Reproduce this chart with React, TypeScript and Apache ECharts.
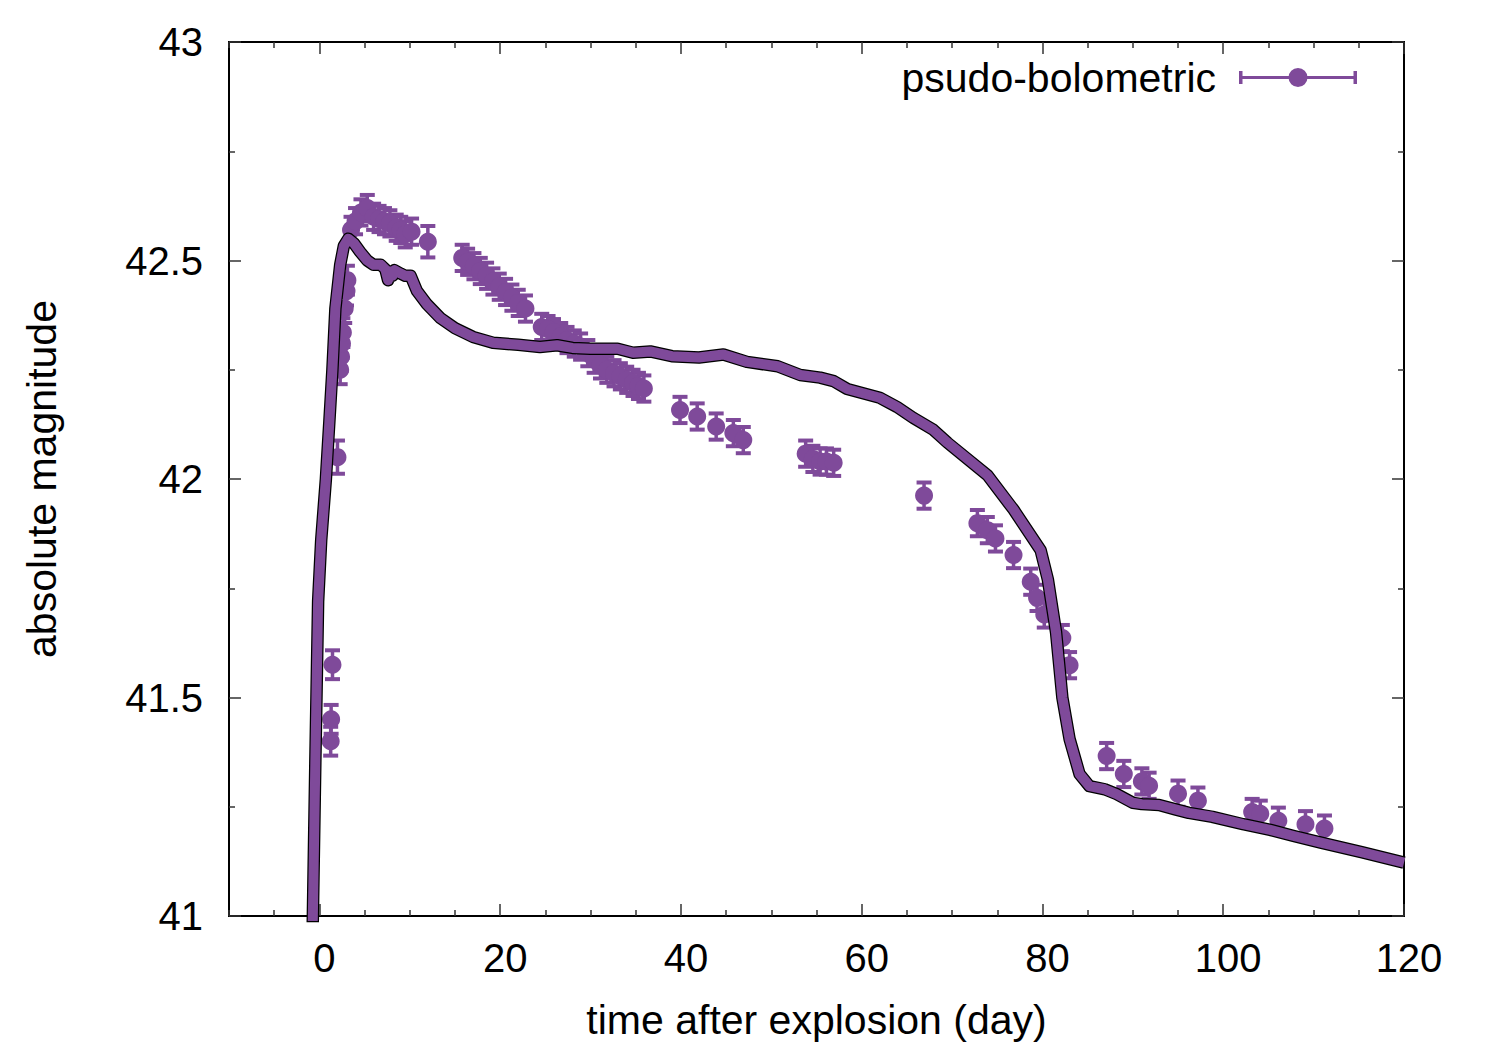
import React, { useEffect, useRef } from "react";
import * as echarts from "echarts";

const PURPLE = "#7f4a9a";
const FONT = "'Liberation Sans', Arial, Helvetica, sans-serif";

// Observed pseudo-bolometric points
const obsDays = [
  1.25, 1.3, 1.45, 2.0, 2.3, 2.4, 2.5, 2.6, 2.8, 3.0, 3.1, 3.5, 4.0, 4.6, 5.3, 6.0, 6.6, 7.2, 7.8,
  8.5, 9.0, 9.5, 10.2, 12.0, 15.8, 16.4, 17.1, 17.8, 18.5, 19.2, 19.9, 20.6, 21.3, 22.0, 22.8, 24.6,
  25.3, 25.9, 26.7, 27.4, 28.2, 28.9, 29.7, 30.4, 31.1, 31.8, 32.6, 33.3, 34.0, 34.7, 35.3, 35.9,
  39.9, 41.8, 43.9, 45.8, 46.9, 53.8, 54.6, 55.4, 56.1, 56.9, 66.9, 72.8, 73.9, 74.8, 76.8, 78.7,
  79.4, 80.2, 82.2, 83.0, 87.1, 89.0, 91.0, 91.8, 95.0, 97.2, 103.2, 104.1, 106.1, 109.1, 111.2,
];
const obsLum = [
  41.4, 41.45, 41.575, 42.05, 42.25, 42.28, 42.31, 42.335, 42.39, 42.43, 42.455, 42.57, 42.59, 42.61,
  42.62, 42.6, 42.595, 42.59, 42.585, 42.575, 42.57, 42.56, 42.566, 42.543, 42.506, 42.497, 42.487,
  42.476, 42.465, 42.452, 42.44, 42.428, 42.415, 42.403, 42.39, 42.348, 42.343, 42.336, 42.327,
  42.318, 42.31, 42.303, 42.288, 42.273, 42.26, 42.25, 42.242, 42.235, 42.227, 42.22, 42.213,
  42.207, 42.158, 42.143, 42.12, 42.105, 42.089, 42.058, 42.046, 42.04, 42.04, 42.037, 41.962,
  41.899, 41.883, 41.864, 41.826, 41.765, 41.728, 41.69, 41.636, 41.574, 41.366, 41.325, 41.308,
  41.298, 41.28, 41.264, 41.238, 41.234, 41.218, 41.21, 41.2,
];
const obsErr = [
  0.033, 0.033, 0.033, 0.038, 0.033, 0.033, 0.033, 0.033, 0.033, 0.033, 0.033, 0.03, 0.03, 0.03,
  0.03, 0.03, 0.03, 0.03, 0.03, 0.03, 0.03, 0.03, 0.03, 0.036, 0.03, 0.03, 0.03, 0.03, 0.03, 0.03,
  0.03, 0.03, 0.03, 0.03, 0.03, 0.03, 0.03, 0.03, 0.03, 0.03, 0.03, 0.03, 0.03, 0.03, 0.03, 0.03,
  0.03, 0.03, 0.03, 0.03, 0.03, 0.03, 0.03, 0.03, 0.03, 0.03, 0.03, 0.03, 0.03, 0.03, 0.03, 0.03,
  0.03, 0.03, 0.03, 0.03, 0.03, 0.03, 0.03, 0.03, 0.03, 0.03, 0.03, 0.03, 0.03, 0.03, 0.03, 0.03,
  0.03, 0.03, 0.03, 0.03, 0.03, 0.03,
];

// Model light curve
const modelDays = [
  -0.8, -0.45, -0.14, 0.2, 0.72, 1.1, 1.44, 1.77, 2.3, 2.7, 3.2, 3.8, 4.5, 5.3, 6.0, 6.8, 7.3, 7.6,
  7.8, 8.1, 8.3, 9.0, 9.5, 10.1, 10.8, 11.9, 13.4, 15.0, 17.0, 19.2, 22.0, 24.4, 26.3, 28.0, 30.0,
  33.0, 34.7, 36.6, 39.0, 42.0, 44.7, 47.3, 50.7, 53.2, 55.4, 56.9, 58.4, 62.0, 63.9, 65.7, 67.9,
  69.5, 73.9, 76.8, 79.8, 80.6, 81.5, 82.2, 83.0, 84.1, 85.2, 86.9, 88.2, 90.0, 91.0, 92.9, 94.7,
  96.2, 98.8, 102.2, 105.2, 107.8, 110.8, 115.3, 120.0,
];
const modelLum = [
  40.9, 41.35, 41.72, 41.86, 42.0, 42.13, 42.25, 42.39, 42.49, 42.533, 42.55, 42.54, 42.52, 42.5,
  42.49, 42.49, 42.48, 42.455, 42.475, 42.465, 42.478, 42.47, 42.465, 42.465, 42.43, 42.4, 42.368,
  42.345, 42.325, 42.312, 42.307, 42.302, 42.306, 42.3, 42.298, 42.298, 42.289, 42.292, 42.281,
  42.278, 42.285, 42.268, 42.258, 42.238, 42.232, 42.224, 42.206, 42.186, 42.165, 42.14, 42.113,
  42.083, 42.009, 41.93, 41.837, 41.77, 41.65, 41.5, 41.405, 41.325, 41.297, 41.29, 41.279, 41.259,
  41.256, 41.254, 41.244, 41.236, 41.227, 41.21, 41.197, 41.183, 41.168, 41.146, 41.122,
];

const xMajor = [0, 20, 40, 60, 80, 100, 120];
const xMinor = [-10, -5, 5, 10, 15, 25, 30, 35, 45, 50, 55, 65, 70, 75, 85, 90, 95, 105, 110, 115];

const legendIcon =
  "path://M0,3.5h3.5v13h-3.5z M114.5,3.5h3.5v13h-3.5z M0,8.5h118v3h-118z M49.5,10a9.5,9.5 0 1,1 19,0a9.5,9.5 0 1,1 -19,0z";

export default function App() {
  const ref = useRef<HTMLDivElement>(null);
  useEffect(() => {
    if (!ref.current) return;
    const chart = echarts.init(ref.current, undefined, { renderer: "svg" });
    const obs = obsDays.map((d, i) => [d, obsLum[i], obsErr[i]]);
    const model = modelDays.map((d, i) => [d, modelLum[i]]);
    const tickStyle = { color: "#333", width: 1.5 };
    const hiddenLine = { show: false, onZero: false };
    const xBase = { type: "value", min: -10, max: 120, splitLine: { show: false }, axisLine: hiddenLine };
    const yBase = { type: "value", min: 41, max: 43, interval: 0.5, splitLine: { show: false }, axisLine: hiddenLine };
    chart.setOption({
      animation: false,
      backgroundColor: "#fff",
      textStyle: { fontFamily: FONT },
      grid: { left: 229, right: 96, top: 42, bottom: 134, show: true, borderColor: "#000", borderWidth: 2, backgroundColor: "transparent" },
      legend: {
        data: [{ name: "psudo-bolometric", icon: legendIcon }],
        right: 138,
        top: 52,
        align: "right",
        itemWidth: 118,
        itemHeight: 20,
        selectedMode: false,
        textStyle: { fontSize: 41, color: "#000", fontFamily: FONT, padding: [0, 18, 0, 0] },
      },
      xAxis: [
        {
          ...xBase,
          position: "bottom",
          name: "time after explosion (day)",
          nameLocation: "middle",
          nameGap: 83,
          nameTextStyle: { fontSize: 41, color: "#000", fontFamily: FONT },
          axisTick: { show: true, inside: true, length: 12, customValues: xMajor, lineStyle: tickStyle },
          axisLabel: { show: true, customValues: xMajor, fontSize: 40, color: "#000", margin: 22, padding: [0, 0, 0, 10], fontFamily: FONT },
        },
        {
          ...xBase,
          position: "top",
          axisTick: { show: true, inside: true, length: 12, customValues: xMajor, lineStyle: tickStyle },
          axisLabel: { show: false },
        },
        {
          ...xBase,
          position: "bottom",
          axisTick: { show: true, inside: true, length: 6, customValues: xMinor, lineStyle: tickStyle },
          axisLabel: { show: false },
        },
        {
          ...xBase,
          position: "top",
          axisTick: { show: true, inside: true, length: 6, customValues: xMinor, lineStyle: tickStyle },
          axisLabel: { show: false },
        },
      ],
      yAxis: [
        {
          ...yBase,
          position: "left",
          name: "absolute magnitude",
          nameLocation: "middle",
          nameGap: 167,
          nameTextStyle: { fontSize: 41, color: "#000", fontFamily: FONT },
          axisTick: { show: true, inside: true, length: 12, lineStyle: tickStyle },
          minorTick: { show: true, splitNumber: 2, length: 6, lineStyle: tickStyle },
          axisLabel: { show: true, fontSize: 40, color: "#000", margin: 26, fontFamily: FONT },
        },
        {
          ...yBase,
          position: "right",
          axisTick: { show: true, inside: true, length: 12, lineStyle: tickStyle },
          minorTick: { show: true, splitNumber: 2, length: 6, lineStyle: tickStyle },
          axisLabel: { show: false },
        },
      ],
      series: [
        {
          name: "errors",
          type: "custom",
          xAxisIndex: 0,
          yAxisIndex: 0,
          data: obs,
          encode: { x: 0, y: 1 },
          z: 2,
          renderItem: (params: any, api: any) => {
            const x = api.value(0);
            const y = api.value(1);
            const e = api.value(2);
            const top = api.coord([x, y + e]);
            const bot = api.coord([x, y - e]);
            const hw = 7.5;
            const st = { stroke: PURPLE, lineWidth: 3.5 };
            return {
              type: "group",
              children: [
                { type: "line", shape: { x1: top[0], y1: top[1], x2: bot[0], y2: bot[1] }, style: st },
                { type: "line", shape: { x1: top[0] - hw, y1: top[1], x2: top[0] + hw, y2: top[1] }, style: { stroke: PURPLE, lineWidth: 4 } },
                { type: "line", shape: { x1: bot[0] - hw, y1: bot[1], x2: bot[0] + hw, y2: bot[1] }, style: { stroke: PURPLE, lineWidth: 4 } },
              ],
            };
          },
        },
        {
          name: "psudo-bolometric",
          type: "scatter",
          xAxisIndex: 0,
          yAxisIndex: 0,
          data: obs.map((p) => [p[0], p[1]]),
          symbol: "circle",
          symbolSize: 18,
          itemStyle: { color: PURPLE, opacity: 1 },
          z: 3,
        },
        {
          name: "model-outline",
          type: "line",
          xAxisIndex: 0,
          yAxisIndex: 0,
          data: model,
          showSymbol: false,
          symbol: "none",
          lineStyle: { color: "#000", width: 12.5, join: "round", cap: "butt" },
          z: 4,
        },
        {
          name: "model",
          type: "line",
          xAxisIndex: 0,
          yAxisIndex: 0,
          data: model,
          showSymbol: false,
          symbol: "none",
          lineStyle: { color: PURPLE, width: 10, join: "round", cap: "butt" },
          z: 5,
        },
      ],
    });
    return () => chart.dispose();
  }, []);
  return <div ref={ref} style={{ position: "fixed", left: 0, top: 0, width: 1500, height: 1050 }} />;
}
